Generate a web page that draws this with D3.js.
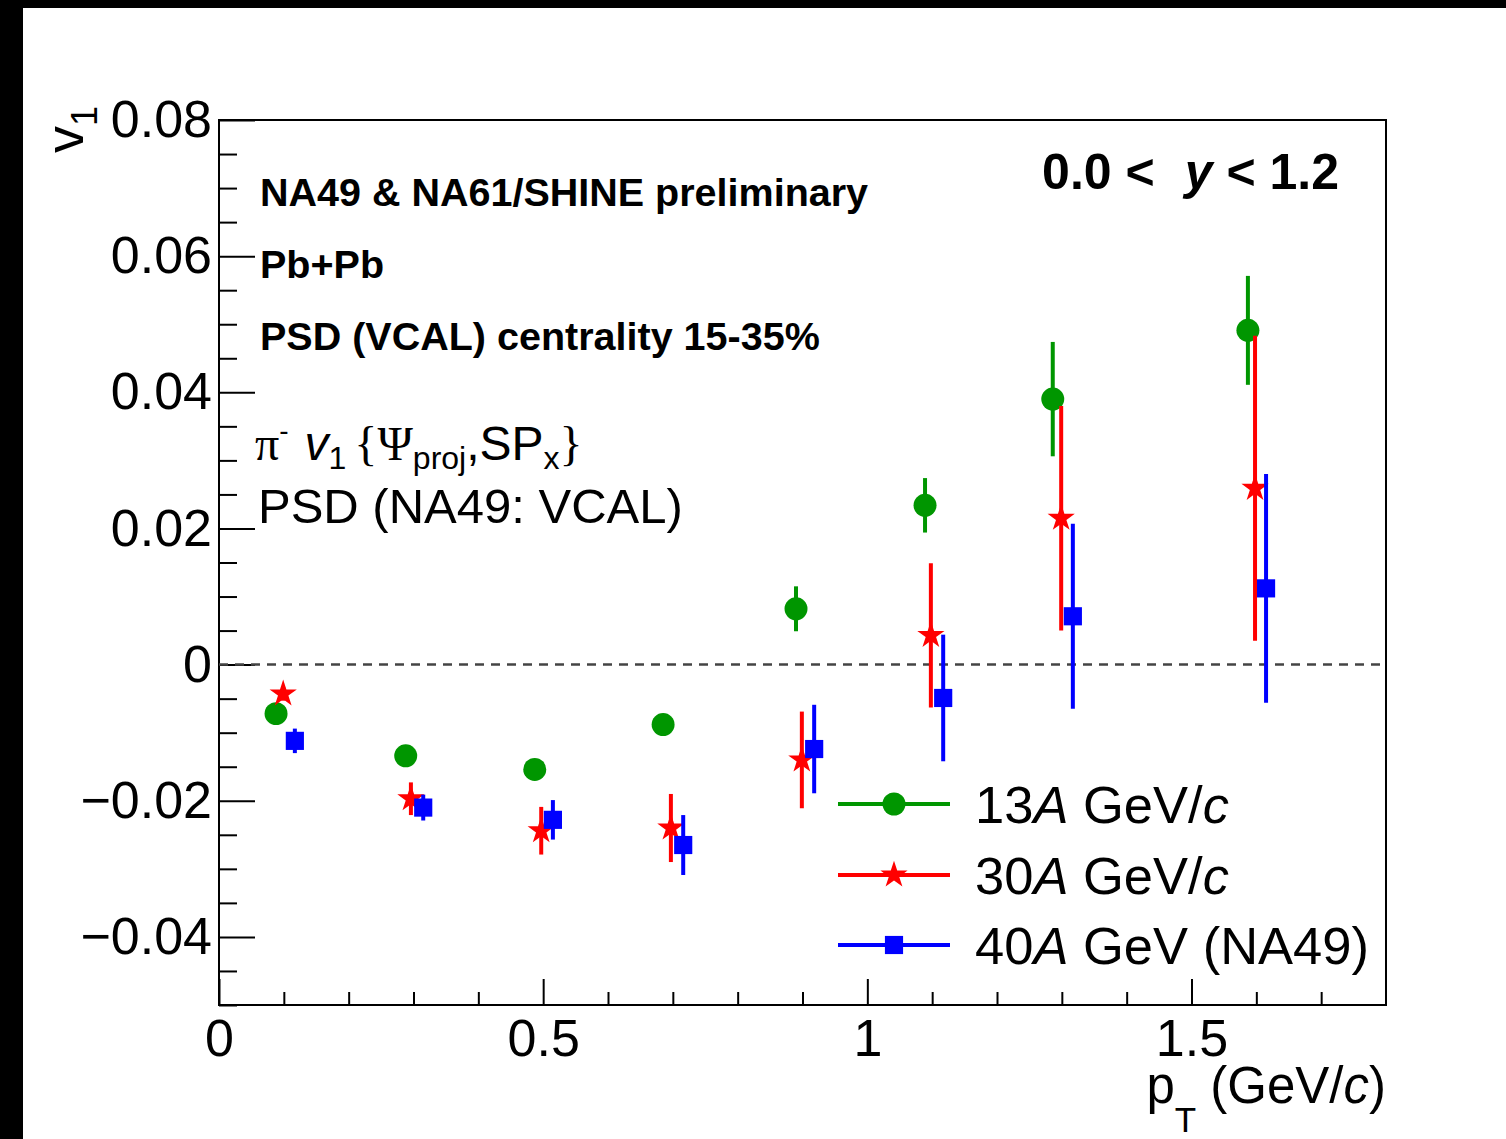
<!DOCTYPE html>
<html>
<head>
<meta charset="utf-8">
<script src="https://cdn.jsdelivr.net/npm/d3@7"></script>
<style>
  body { margin: 0; background: #000; }
  svg { display: block; }
  text { font-family: "Liberation Sans", Arial, Helvetica, sans-serif; fill: #000; }
</style>
</head>
<body>
<div id="chart"></div>
<script>
// pT (GeV/c), v1 and stat. error for each energy
const pt13 = [0.088, 0.288, 0.487, 0.685, 0.890, 1.089, 1.286, 1.587];
const v13  = [-0.0072, -0.0134, -0.0154, -0.0088, 0.0082, 0.0234, 0.0390, 0.0491];
const e13  = [0.0010, 0.0010, 0.0010, 0.0010, 0.0033, 0.0040, 0.0084, 0.0080];

const pt30 = [0.099, 0.296, 0.497, 0.697, 0.899, 1.098, 1.299, 1.598];
const v30  = [-0.0043, -0.0197, -0.0244, -0.0240, -0.0140, 0.0043, 0.0215, 0.0259];
const e30  = [0.0010, 0.0024, 0.0035, 0.0050, 0.0071, 0.0106, 0.0165, 0.0224];

const pt40 = [0.117, 0.315, 0.515, 0.716, 0.918, 1.117, 1.317, 1.615];
const v40  = [-0.0112, -0.0210, -0.0228, -0.0265, -0.0124, -0.0049, 0.0071, 0.0112];
const e40  = [0.0018, 0.0019, 0.0029, 0.0044, 0.0065, 0.0093, 0.0136, 0.0168];

const xMajor = [0, 0.5, 1, 1.5];
const yMajor = [-0.04, -0.02, 0, 0.02, 0.04, 0.06, 0.08];

const W = 1506, H = 1139;
const frame = { left: 219, right: 1386, top: 120, bottom: 1005 };

const series = [
  { pt: pt13, v: v13, e: e13, color: '#009600', symbol: d3.symbolCircle, size: 415,
    label: [{ t: '13' }, { t: 'A', it: true }, { t: ' GeV/' }, { t: 'c', it: true }] },
  { pt: pt30, v: v30, e: e30, color: '#ff0000', symbol: d3.symbolStar, size: 230,
    label: [{ t: '30' }, { t: 'A', it: true }, { t: ' GeV/' }, { t: 'c', it: true }] },
  { pt: pt40, v: v40, e: e40, color: '#0000ff', symbol: d3.symbolSquare, size: 330,
    label: [{ t: '40' }, { t: 'A', it: true }, { t: ' GeV (NA49)' }] }
];

const svg = d3.select('#chart').append('svg')
  .attr('width', W).attr('height', H);

// fundo: moldura preta em cima e à esquerda
svg.append('rect').attr('width', W).attr('height', H).attr('fill', '#000');
svg.append('rect').attr('x', 23).attr('y', 8).attr('width', W - 23).attr('height', H - 8).attr('fill', '#fff');

const x = d3.scaleLinear().domain([0, 1.8]).range([frame.left, frame.right]);
const y = d3.scaleLinear().domain([-0.05, 0.08]).range([frame.bottom, frame.top]);

// escreve texto com partes (sub/sup, itálico, serif)
function rich(sel, parts) {
  parts.forEach(p => {
    const ts = sel.append('tspan').text(p.t);
    if (p.dy) ts.attr('dy', p.dy);
    if (p.dx) ts.attr('dx', p.dx);
    if (p.size) ts.style('font-size', p.size + 'px');
    if (p.it) ts.style('font-style', 'italic');
    if (p.bold) ts.style('font-weight', 'bold');
    if (p.serif) ts.style('font-family', '"Liberation Serif", "DejaVu Serif", serif');
  });
  return sel;
}

// Eixos (ticks para dentro)
const xMinor = d3.range(1, 18).map(i => i / 10).filter(v => Math.abs(v * 2 - Math.round(v * 2)) > 1e-9);
const yMinor = d3.range(-50, 81, 5).map(i => i / 1000).filter(v => Math.abs(v * 50 - Math.round(v * 50)) > 1e-9);

const gx = svg.append('g').attr('transform', `translate(0,${frame.bottom})`);
gx.append('g').call(d3.axisBottom(x).tickValues(xMinor).tickSize(-13).tickFormat(''));
gx.append('g').call(d3.axisBottom(x).tickValues(xMajor).tickSize(-26).tickPadding(14)
  .tickFormat(d => String(d)));

const gy = svg.append('g').attr('transform', `translate(${frame.left},0)`);
gy.append('g').call(d3.axisLeft(y).tickValues(yMinor).tickSize(-18).tickFormat(''));
gy.append('g').call(d3.axisLeft(y).tickValues(yMajor).tickSize(-36).tickPadding(7)
  .tickFormat(d => d === 0 ? '0' : d3.format('.2f')(d)));

svg.selectAll('.domain').remove();
svg.selectAll('.tick line').attr('stroke', '#000').attr('stroke-width', 2);
svg.selectAll('.tick text')
  .style('font-size', '52px')
  .style('font-family', '"Liberation Sans", Arial, sans-serif')
  .attr('fill', '#000');

// Moldura
svg.append('rect')
  .attr('x', frame.left).attr('y', frame.top)
  .attr('width', frame.right - frame.left).attr('height', frame.bottom - frame.top)
  .attr('fill', 'none').attr('stroke', '#000').attr('stroke-width', 2);

// Linha do zero
svg.append('line')
  .attr('x1', x(0)).attr('x2', x(1.8))
  .attr('y1', y(0)).attr('y2', y(0))
  .attr('stroke', '#444').attr('stroke-width', 2.5)
  .attr('stroke-dasharray', '9,7');

// Séries: barras de erro + marcadores
series.forEach(s => {
  const g = svg.append('g');
  const idx = d3.range(s.pt.length);
  g.selectAll('line.err').data(idx).enter().append('line')
    .attr('class', 'err')
    .attr('x1', i => x(s.pt[i])).attr('x2', i => x(s.pt[i]))
    .attr('y1', i => y(s.v[i] - s.e[i])).attr('y2', i => y(s.v[i] + s.e[i]))
    .attr('stroke', s.color).attr('stroke-width', 4);
  g.selectAll('path.pt').data(idx).enter().append('path')
    .attr('class', 'pt')
    .attr('d', d3.symbol().type(s.symbol).size(s.size))
    .attr('transform', i => `translate(${x(s.pt[i])},${y(s.v[i])})`)
    .attr('fill', s.color);
});

// Legenda
const legY = [804, 875, 945];
series.forEach((s, k) => {
  svg.append('line')
    .attr('x1', 838).attr('x2', 950)
    .attr('y1', legY[k]).attr('y2', legY[k])
    .attr('stroke', s.color).attr('stroke-width', 4);
  svg.append('path')
    .attr('d', d3.symbol().type(s.symbol).size(s.size))
    .attr('transform', `translate(894,${legY[k]})`)
    .attr('fill', s.color);
  rich(svg.append('text').attr('x', 975).attr('y', legY[k] + 19).style('font-size', '52.5px'), s.label);
});

// Textos
const boldLines = ['NA49 & NA61/SHINE preliminary', 'Pb+Pb', 'PSD (VCAL) centrality 15-35%'];
boldLines.forEach((t, i) => {
  svg.append('text')
    .attr('x', 260).attr('y', 206 + i * 72)
    .style('font-size', '39.5px').style('font-weight', 'bold')
    .text(t);
});

rich(svg.append('text')
  .attr('x', 1339).attr('y', 189)
  .attr('text-anchor', 'end')
  .style('font-size', '50px').style('font-weight', 'bold'),
  [{ t: '0.0 <' }, { t: 'y', it: true, dx: 30 }, { t: ' < 1.2' }]);

rich(svg.append('text').attr('x', 255).attr('y', 460).style('font-size', '48px'), [
  { t: 'π', serif: true },
  { t: '-', size: 28, dy: -20 },
  { t: 'v', it: true, dx: 16, dy: 20 },
  { t: '1', size: 32, dy: 9 },
  { t: '{', serif: true, dx: 8, dy: -9 },
  { t: 'Ψ', serif: true },
  { t: 'proj', size: 32, dy: 9 },
  { t: ',', dy: -9 },
  { t: 'SP' },
  { t: 'x', size: 32, dy: 9 },
  { t: '}', serif: true, dy: -9 }
]);

svg.append('text')
  .attr('x', 258).attr('y', 523)
  .style('font-size', '49px')
  .text('PSD (NA49: VCAL)');

// Título do eixo x
rich(svg.append('text')
  .attr('x', frame.right).attr('y', 1103)
  .attr('text-anchor', 'end')
  .style('font-size', '51px'),
  [{ t: 'p' }, { t: 'T', size: 35, dy: 29 }, { t: ' (GeV/', dy: -29 }, { t: 'c', it: true }, { t: ')' }]);

// Título do eixo y
rich(svg.append('text')
  .attr('transform', 'translate(83,106) rotate(-90)')
  .attr('text-anchor', 'end')
  .style('font-size', '54px'),
  [{ t: 'v' }, { t: '1', size: 36, dy: 14 }]);
</script>
</body>
</html>
